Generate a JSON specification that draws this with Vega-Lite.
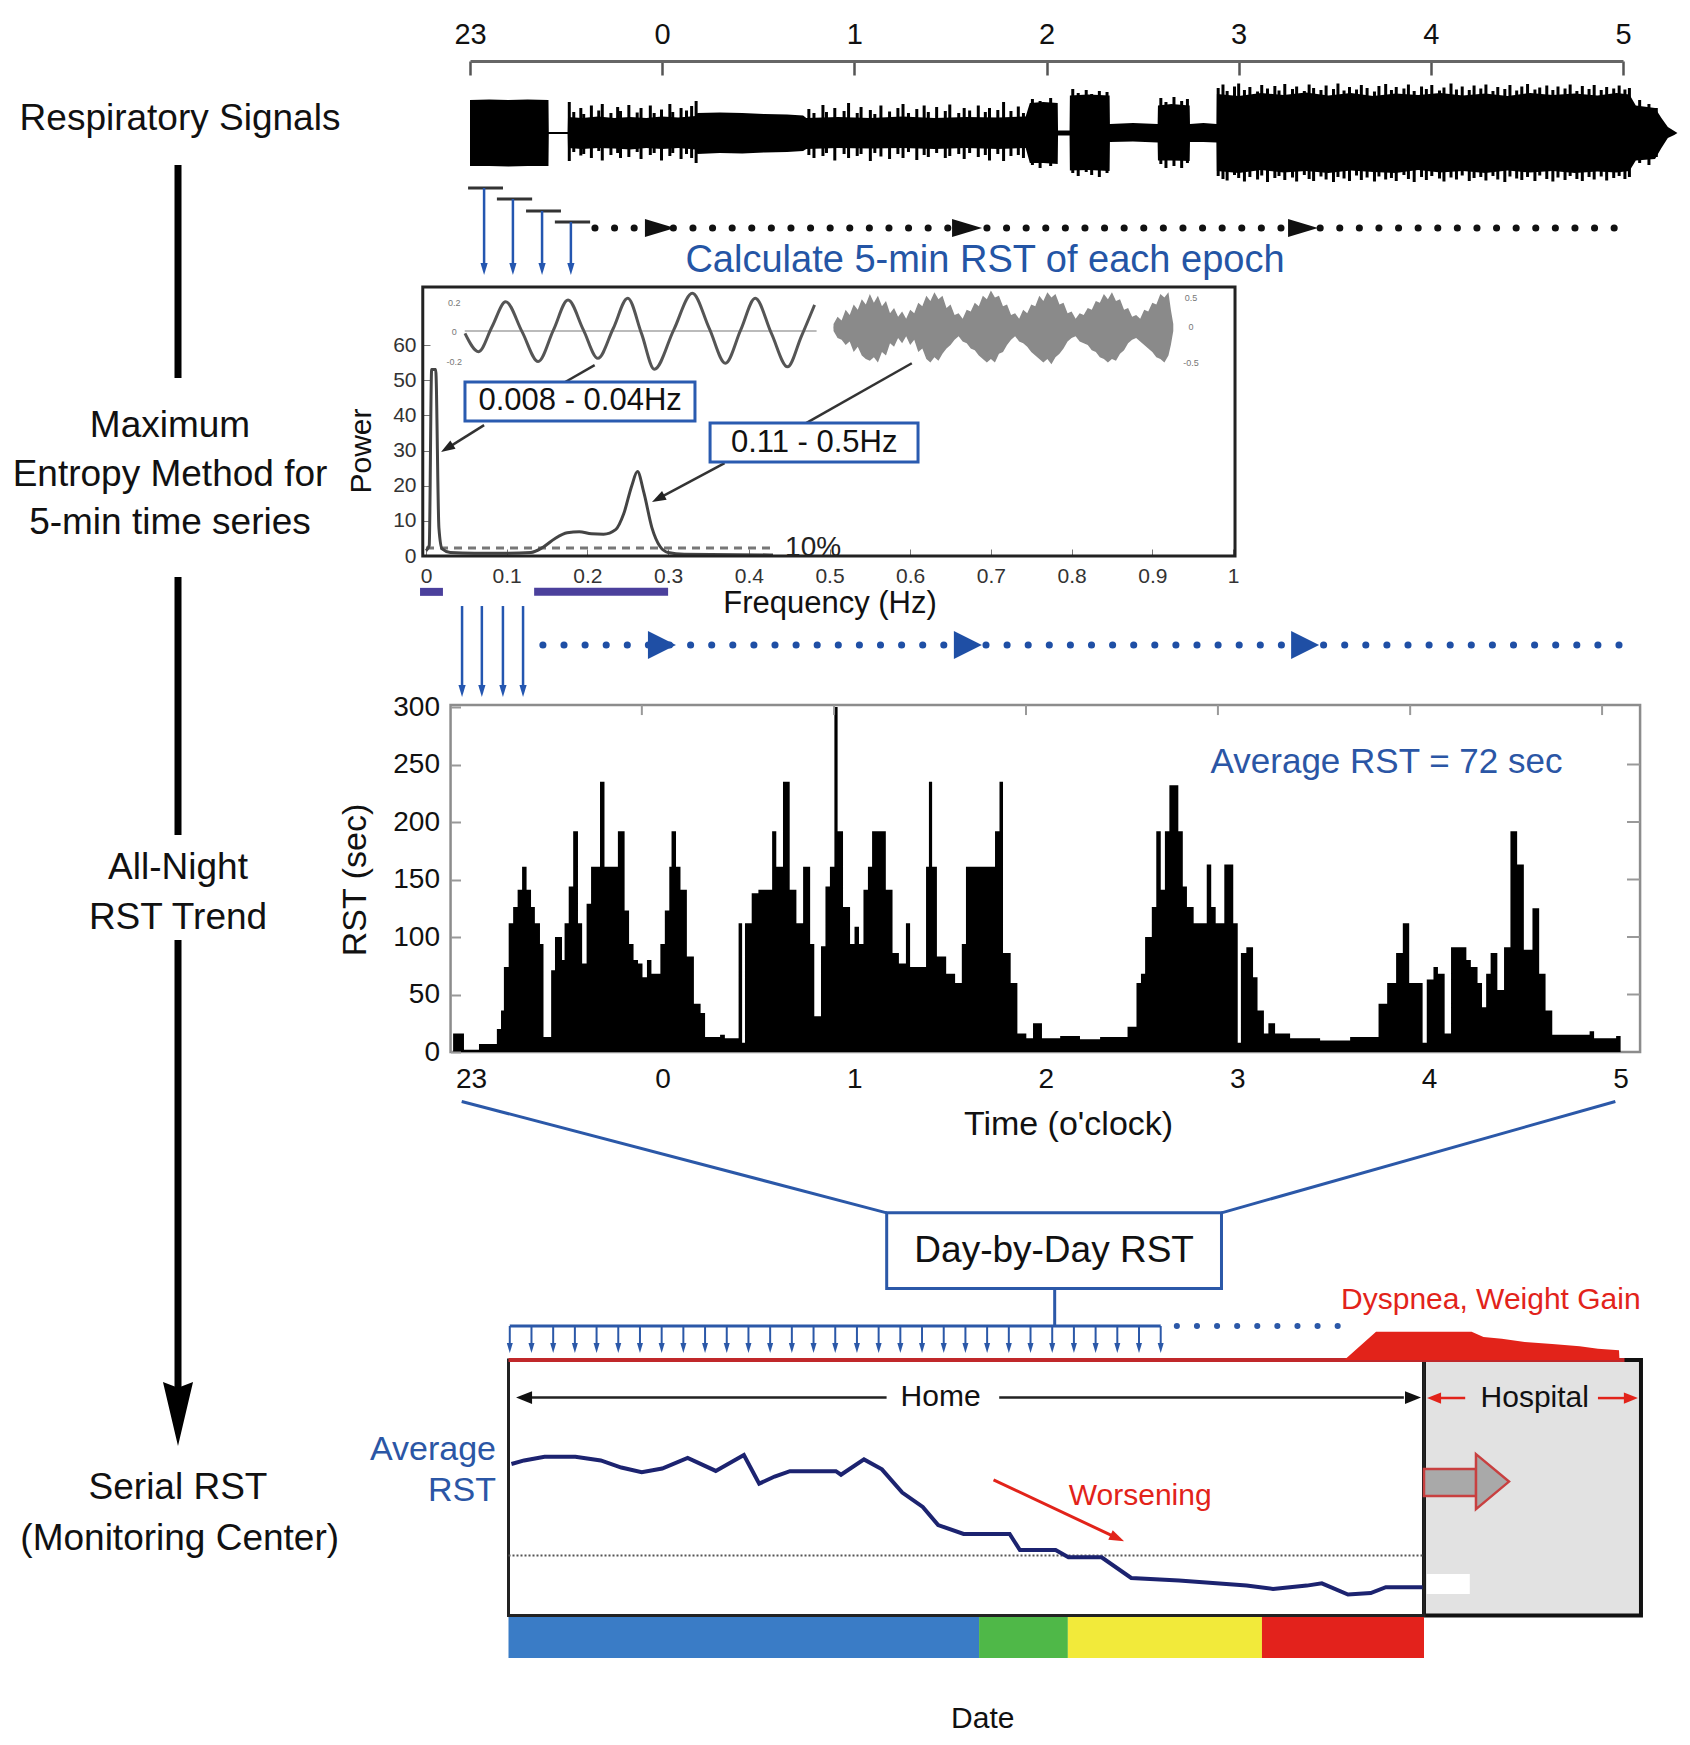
{
  "$schema": "https://vega.github.io/schema/vega-lite/v6.json",
  "width": 1690,
  "height": 1745,
  "autosize": {"type": "none"},
  "padding": 0,
  "background": "white",
  "config": {
    "view": {"stroke": null},
    "font": "Liberation Sans",
    "axis": {"grid": false, "titleFontWeight": "normal", "labelFont": "Liberation Sans", "titleFont": "Liberation Sans", "labelColor": "#111", "titleColor": "#111", "labelFlush": false, "labelOverlap": false}
  },
  "datasets": {
    "respBase": [
      {"t":0,"amp":0.66,"amp2":-0.66},{"t":6,"amp":0.67,"amp2":-0.66},{"t":12,"amp":0.66,"amp2":-0.67},{"t":18,"amp":0.67,"amp2":-0.66},{"t":24.5,"amp":0.66,"amp2":-0.66},
      {"t":24.6,"amp":0.02,"amp2":-0.02},{"t":30.5,"amp":0.02,"amp2":-0.02},
      {"t":30.6,"amp":0.32,"amp2":-0.3},{"t":35,"amp":0.3,"amp2":-0.32},{"t":40,"amp":0.33,"amp2":-0.3},{"t":45,"amp":0.3,"amp2":-0.31},{"t":50,"amp":0.32,"amp2":-0.33},{"t":55,"amp":0.3,"amp2":-0.3},{"t":60,"amp":0.33,"amp2":-0.32},{"t":65,"amp":0.31,"amp2":-0.3},{"t":70.5,"amp":0.34,"amp2":-0.33},
      {"t":71,"amp":0.4,"amp2":-0.42},{"t":78,"amp":0.41,"amp2":-0.4},{"t":85,"amp":0.4,"amp2":-0.41},{"t":92,"amp":0.38,"amp2":-0.39},{"t":99,"amp":0.37,"amp2":-0.38},{"t":104,"amp":0.35,"amp2":-0.36},
      {"t":105,"amp":0.3,"amp2":-0.32},{"t":115,"amp":0.32,"amp2":-0.3},{"t":125,"amp":0.3,"amp2":-0.31},{"t":135,"amp":0.33,"amp2":-0.3},{"t":145,"amp":0.3,"amp2":-0.32},{"t":155,"amp":0.32,"amp2":-0.3},{"t":165,"amp":0.31,"amp2":-0.32},{"t":173.5,"amp":0.33,"amp2":-0.3},
      {"t":174.8,"amp":0.6,"amp2":-0.6},{"t":179,"amp":0.62,"amp2":-0.6},{"t":183.5,"amp":0.6,"amp2":-0.62},
      {"t":183.6,"amp":0.05,"amp2":-0.05},{"t":187.2,"amp":0.05,"amp2":-0.05},
      {"t":187.3,"amp":0.75,"amp2":-0.75},{"t":193,"amp":0.77,"amp2":-0.74},{"t":199.7,"amp":0.75,"amp2":-0.76},
      {"t":199.8,"amp":0.18,"amp2":-0.18},{"t":207,"amp":0.2,"amp2":-0.17},{"t":214.7,"amp":0.18,"amp2":-0.19},
      {"t":214.8,"amp":0.55,"amp2":-0.55},{"t":219,"amp":0.58,"amp2":-0.55},{"t":224.7,"amp":0.55,"amp2":-0.56},
      {"t":224.8,"amp":0.18,"amp2":-0.18},{"t":229,"amp":0.2,"amp2":-0.18},{"t":233.1,"amp":0.18,"amp2":-0.19},
      {"t":233.2,"amp":0.78,"amp2":-0.76},{"t":240,"amp":0.74,"amp2":-0.8},{"t":247,"amp":0.8,"amp2":-0.74},{"t":254,"amp":0.76,"amp2":-0.79},{"t":261,"amp":0.81,"amp2":-0.76},{"t":268,"amp":0.75,"amp2":-0.8},{"t":275,"amp":0.8,"amp2":-0.75},{"t":282,"amp":0.74,"amp2":-0.78},{"t":289,"amp":0.79,"amp2":-0.8},{"t":296,"amp":0.76,"amp2":-0.74},{"t":303,"amp":0.8,"amp2":-0.79},{"t":310,"amp":0.75,"amp2":-0.76},{"t":317,"amp":0.79,"amp2":-0.8},{"t":324,"amp":0.74,"amp2":-0.75},{"t":331,"amp":0.8,"amp2":-0.79},{"t":338,"amp":0.76,"amp2":-0.76},{"t":345,"amp":0.79,"amp2":-0.8},{"t":352,"amp":0.75,"amp2":-0.77},{"t":358,"amp":0.8,"amp2":-0.79},{"t":362,"amp":0.77,"amp2":-0.76},
      {"t":364,"amp":0.55,"amp2":-0.55},{"t":370,"amp":0.5,"amp2":-0.52},{"t":372,"amp":0.3,"amp2":-0.3},{"t":374,"amp":0.12,"amp2":-0.1},{"t":376,"amp":0.04,"amp2":-0.04},{"t":377,"amp":0,"amp2":0}
    ],
    "respPeaks": [
      {"t":31.0,"amp":0.62,"amp2":-0.56},{"t":32.4,"amp":0.42,"amp2":-0.38},{"t":34.6,"amp":0.5,"amp2":-0.45},{"t":35.5,"amp":0.38,"amp2":-0.42},{"t":37.9,"amp":0.55,"amp2":-0.5},{"t":40.2,"amp":0.45,"amp2":-0.36},{"t":41.3,"amp":0.58,"amp2":-0.55},{"t":44.0,"amp":0.4,"amp2":-0.44},{"t":46.1,"amp":0.52,"amp2":-0.4},{"t":47.0,"amp":0.44,"amp2":-0.5},{"t":49.6,"amp":0.56,"amp2":-0.48},{"t":52.2,"amp":0.41,"amp2":-0.38},{"t":53.4,"amp":0.5,"amp2":-0.52},{"t":56.3,"amp":0.55,"amp2":-0.44},{"t":57.5,"amp":0.4,"amp2":-0.4},{"t":59.8,"amp":0.47,"amp2":-0.55},{"t":62.4,"amp":0.58,"amp2":-0.46},{"t":63.3,"amp":0.42,"amp2":-0.4},{"t":65.9,"amp":0.5,"amp2":-0.52},{"t":67.6,"amp":0.45,"amp2":-0.42},{"t":69.2,"amp":0.54,"amp2":-0.5},{"t":70.6,"amp":0.64,"amp2":-0.6},
      {"t":105.8,"amp":0.48,"amp2":-0.44},{"t":107.4,"amp":0.4,"amp2":-0.5},{"t":110.2,"amp":0.56,"amp2":-0.46},{"t":111.3,"amp":0.42,"amp2":-0.4},{"t":113.9,"amp":0.5,"amp2":-0.55},{"t":116.8,"amp":0.44,"amp2":-0.42},{"t":118.2,"amp":0.6,"amp2":-0.5},{"t":120.9,"amp":0.4,"amp2":-0.46},{"t":122.1,"amp":0.52,"amp2":-0.42},{"t":125.0,"amp":0.46,"amp2":-0.56},{"t":126.4,"amp":0.38,"amp2":-0.4},{"t":128.3,"amp":0.55,"amp2":-0.47},{"t":131.0,"amp":0.43,"amp2":-0.52},{"t":133.6,"amp":0.5,"amp2":-0.42},{"t":135.2,"amp":0.58,"amp2":-0.5},{"t":136.9,"amp":0.4,"amp2":-0.38},{"t":139.5,"amp":0.48,"amp2":-0.54},{"t":141.8,"amp":0.55,"amp2":-0.44},{"t":143.1,"amp":0.42,"amp2":-0.48},{"t":145.7,"amp":0.52,"amp2":-0.4},{"t":148.4,"amp":0.44,"amp2":-0.5},{"t":149.8,"amp":0.57,"amp2":-0.46},{"t":152.6,"amp":0.4,"amp2":-0.42},{"t":154.3,"amp":0.5,"amp2":-0.52},{"t":156.0,"amp":0.45,"amp2":-0.4},{"t":158.7,"amp":0.55,"amp2":-0.48},{"t":160.9,"amp":0.42,"amp2":-0.44},{"t":162.2,"amp":0.5,"amp2":-0.55},{"t":164.8,"amp":0.46,"amp2":-0.42},{"t":166.6,"amp":0.62,"amp2":-0.56},{"t":168.9,"amp":0.44,"amp2":-0.46},{"t":171.2,"amp":0.53,"amp2":-0.44},{"t":172.8,"amp":0.4,"amp2":-0.5},
      {"t":175.6,"amp":0.68,"amp2":-0.64},{"t":178.0,"amp":0.64,"amp2":-0.7},{"t":181.3,"amp":0.7,"amp2":-0.66},
      {"t":188.2,"amp":0.88,"amp2":-0.8},{"t":189.9,"amp":0.8,"amp2":-0.86},{"t":192.4,"amp":0.86,"amp2":-0.78},{"t":194.1,"amp":0.78,"amp2":-0.84},{"t":196.5,"amp":0.84,"amp2":-0.88},{"t":198.9,"amp":0.82,"amp2":-0.8},
      {"t":215.7,"amp":0.7,"amp2":-0.62},{"t":217.3,"amp":0.62,"amp2":-0.7},{"t":219.8,"amp":0.72,"amp2":-0.66},{"t":222.2,"amp":0.64,"amp2":-0.7},{"t":224.0,"amp":0.68,"amp2":-0.6},
      {"t":233.6,"amp":0.9,"amp2":-0.86},{"t":235.1,"amp":0.97,"amp2":-0.92},{"t":236.4,"amp":0.84,"amp2":-0.95},{"t":238.7,"amp":0.93,"amp2":-0.84},{"t":240.0,"amp":0.99,"amp2":-0.9},{"t":241.8,"amp":0.86,"amp2":-0.97},{"t":243.5,"amp":0.92,"amp2":-0.88},{"t":245.9,"amp":0.83,"amp2":-0.93},{"t":247.2,"amp":0.96,"amp2":-0.85},{"t":249.0,"amp":0.89,"amp2":-0.98},{"t":251.3,"amp":0.94,"amp2":-0.9},{"t":252.6,"amp":0.85,"amp2":-0.86},{"t":254.4,"amp":0.98,"amp2":-0.94},{"t":256.8,"amp":0.88,"amp2":-0.89},{"t":258.1,"amp":0.93,"amp2":-0.97},{"t":260.5,"amp":0.84,"amp2":-0.84},{"t":262.0,"amp":0.97,"amp2":-0.92},{"t":263.4,"amp":0.9,"amp2":-0.96},{"t":265.7,"amp":0.86,"amp2":-0.87},{"t":267.3,"amp":0.95,"amp2":-0.93},{"t":269.6,"amp":0.88,"amp2":-0.98},{"t":271.0,"amp":0.99,"amp2":-0.88},{"t":272.9,"amp":0.85,"amp2":-0.91},{"t":274.6,"amp":0.92,"amp2":-0.96},{"t":276.8,"amp":0.87,"amp2":-0.85},{"t":278.3,"amp":0.96,"amp2":-0.94},{"t":280.1,"amp":0.9,"amp2":-0.89},{"t":282.4,"amp":0.83,"amp2":-0.97},{"t":283.8,"amp":0.94,"amp2":-0.87},{"t":285.9,"amp":0.98,"amp2":-0.93},{"t":287.7,"amp":0.86,"amp2":-0.9},{"t":289.2,"amp":0.92,"amp2":-0.96},{"t":291.6,"amp":0.89,"amp2":-0.84},{"t":293.0,"amp":0.97,"amp2":-0.92},{"t":294.8,"amp":0.84,"amp2":-0.98},{"t":297.1,"amp":0.93,"amp2":-0.88},{"t":298.6,"amp":0.88,"amp2":-0.94},{"t":300.3,"amp":0.96,"amp2":-0.86},{"t":302.7,"amp":0.85,"amp2":-0.91},{"t":304.1,"amp":0.91,"amp2":-0.97},{"t":306.3,"amp":0.99,"amp2":-0.89},{"t":308.0,"amp":0.87,"amp2":-0.93},{"t":309.8,"amp":0.93,"amp2":-0.85},{"t":312.0,"amp":0.86,"amp2":-0.96},{"t":313.5,"amp":0.95,"amp2":-0.9},{"t":315.6,"amp":0.89,"amp2":-0.88},{"t":317.2,"amp":0.97,"amp2":-0.95},{"t":319.4,"amp":0.84,"amp2":-0.86},{"t":320.9,"amp":0.92,"amp2":-0.93},{"t":323.1,"amp":0.88,"amp2":-0.98},{"t":324.7,"amp":0.96,"amp2":-0.87},{"t":326.8,"amp":0.85,"amp2":-0.91},{"t":328.4,"amp":0.93,"amp2":-0.94},{"t":330.2,"amp":0.98,"amp2":-0.88},{"t":332.5,"amp":0.87,"amp2":-0.96},{"t":334.0,"amp":0.91,"amp2":-0.85},{"t":336.2,"amp":0.95,"amp2":-0.92},{"t":338.1,"amp":0.86,"amp2":-0.97},{"t":339.7,"amp":0.93,"amp2":-0.89},{"t":341.9,"amp":0.89,"amp2":-0.94},{"t":343.5,"amp":0.97,"amp2":-0.86},{"t":345.6,"amp":0.84,"amp2":-0.92},{"t":347.3,"amp":0.94,"amp2":-0.96},{"t":349.4,"amp":0.88,"amp2":-0.88},{"t":351.0,"amp":0.96,"amp2":-0.93},{"t":353.2,"amp":0.86,"amp2":-0.87},{"t":354.9,"amp":0.92,"amp2":-0.95},{"t":357.1,"amp":0.89,"amp2":-0.9},{"t":358.8,"amp":0.95,"amp2":-0.86},{"t":360.6,"amp":0.87,"amp2":-0.92},{"t":362.0,"amp":0.9,"amp2":-0.88},
      {"t":365.2,"amp":0.66,"amp2":-0.6},{"t":368.1,"amp":0.58,"amp2":-0.64},{"t":370.4,"amp":0.5,"amp2":-0.48}
    ],
    "rst": [
      {"t":-5.6,"rst":16},{"t":-2.2,"rst":2},{"t":2.5,"rst":7},{"t":8.1,"rst":20},{"t":9.4,"rst":36},{"t":10.3,"rst":74},{"t":11.8,"rst":112},{"t":13.2,"rst":126},{"t":14.6,"rst":141},{"t":16.0,"rst":161},{"t":17.4,"rst":141},{"t":18.8,"rst":126},{"t":20.0,"rst":112},{"t":21.6,"rst":94},{"t":22.7,"rst":13},
      {"t":25.1,"rst":71},{"t":26.3,"rst":100},{"t":28.5,"rst":80},{"t":29.3,"rst":112},{"t":30.6,"rst":144},{"t":32.0,"rst":192},{"t":33.5,"rst":112},{"t":34.8,"rst":77},{"t":36.2,"rst":129},{"t":37.6,"rst":161},{"t":40.4,"rst":235},{"t":41.8,"rst":161},{"t":46.0,"rst":192},{"t":48.1,"rst":123},{"t":49.5,"rst":94},{"t":50.9,"rst":80},{"t":52.3,"rst":77},{"t":53.7,"rst":65},{"t":55.1,"rst":80},{"t":56.5,"rst":68},{"t":59.3,"rst":94},{"t":60.7,"rst":123},{"t":62.1,"rst":161},{"t":62.8,"rst":192},{"t":64.2,"rst":161},{"t":65.6,"rst":141},{"t":67.6,"rst":83},{"t":69.8,"rst":42},{"t":71.9,"rst":34},{"t":73.3,"rst":13},{"t":78.0,"rst":15},{"t":79.5,"rst":12},
      {"t":83.8,"rst":112},{"t":84.9,"rst":8},{"t":85.8,"rst":112},{"t":87.9,"rst":138},{"t":90.0,"rst":141},{"t":94.3,"rst":192},{"t":95.6,"rst":161},{"t":97.7,"rst":235},{"t":99.8,"rst":141},{"t":101.9,"rst":112},{"t":104.0,"rst":161},{"t":106.2,"rst":94},{"t":107.5,"rst":31},{"t":109.6,"rst":92},{"t":111.0,"rst":144},{"t":112.4,"rst":161},{"t":113.8,"rst":300},{"t":114.8,"rst":192},{"t":116.5,"rst":126},{"t":118.7,"rst":94},{"t":120.1,"rst":109},{"t":121.5,"rst":94},{"t":122.9,"rst":141},{"t":124.3,"rst":161},{"t":125.6,"rst":192},{"t":129.9,"rst":141},{"t":132.0,"rst":86},{"t":134.0,"rst":77},{"t":136.2,"rst":112},{"t":137.5,"rst":74},{"t":142.5,"rst":161},{"t":143.4,"rst":235},{"t":144.4,"rst":161},{"t":145.9,"rst":83},{"t":148.8,"rst":68},{"t":151.6,"rst":60},{"t":153.7,"rst":94},{"t":155.0,"rst":161},{"t":164.1,"rst":192},{"t":165.5,"rst":235},{"t":166.6,"rst":86},{"t":169.0,"rst":60},{"t":171.1,"rst":16},
      {"t":173.9,"rst":12},{"t":176.0,"rst":25},{"t":178.8,"rst":12},{"t":184.5,"rst":14},{"t":190.7,"rst":11},{"t":197.0,"rst":13},{"t":205.6,"rst":22},
      {"t":208.4,"rst":60},{"t":209.8,"rst":68},{"t":211.1,"rst":100},{"t":213.2,"rst":126},{"t":214.6,"rst":192},{"t":216.0,"rst":141},{"t":217.3,"rst":192},{"t":218.7,"rst":232},{"t":221.5,"rst":192},{"t":222.9,"rst":144},{"t":224.2,"rst":126},{"t":226.3,"rst":112},{"t":230.4,"rst":163},{"t":231.8,"rst":126},{"t":233.2,"rst":112},{"t":235.9,"rst":163},{"t":238.7,"rst":112},{"t":240.1,"rst":8},{"t":241.1,"rst":86},{"t":242.8,"rst":91},{"t":244.9,"rst":65},{"t":246.3,"rst":36},{"t":248.3,"rst":16},{"t":249.7,"rst":25},{"t":251.8,"rst":16},{"t":256.5,"rst":12},{"t":265.9,"rst":10},{"t":275.3,"rst":13},
      {"t":284.2,"rst":42},{"t":286.9,"rst":60},{"t":289.7,"rst":86},{"t":291.8,"rst":112},{"t":293.8,"rst":60},{"t":298.0,"rst":8},{"t":299.3,"rst":63},{"t":301.4,"rst":74},{"t":302.8,"rst":68},{"t":304.9,"rst":16},{"t":306.9,"rst":91},{"t":311.7,"rst":80},{"t":313.1,"rst":74},{"t":315.2,"rst":60},{"t":316.6,"rst":39},{"t":317.9,"rst":68},{"t":319.3,"rst":86},{"t":321.4,"rst":54},{"t":323.5,"rst":91},{"t":325.5,"rst":192},{"t":327.6,"rst":163},{"t":329.7,"rst":89},{"t":332.4,"rst":125},{"t":334.5,"rst":68},{"t":336.5,"rst":36},{"t":338.6,"rst":15},{"t":350.3,"rst":18},{"t":351.7,"rst":12},{"t":358.6,"rst":14},{"t":360.0,"rst":0}
    ],
    "sine": [
      {"f":0.0483,"p":63.3},{"f":0.0652,"p":58.1},{"f":0.0818,"p":65.2},{"f":0.0988,"p":72.3},{"f":0.119,"p":63.8},{"f":0.139,"p":55.3},{"f":0.158,"p":64.3},{"f":0.176,"p":72.8},{"f":0.195,"p":64.3},{"f":0.213,"p":56.2},{"f":0.232,"p":64.7},{"f":0.25,"p":73.3},{"f":0.267,"p":63.3},{"f":0.283,"p":53.1},{"f":0.307,"p":64.3},{"f":0.33,"p":74.7},{"f":0.351,"p":64.7},{"f":0.371,"p":54.8},{"f":0.39,"p":64.3},{"f":0.408,"p":73.3},{"f":0.428,"p":63.3},{"f":0.448,"p":53.8},{"f":0.465,"p":62.4},{"f":0.4815,"p":71.4}
    ],
    "noise": [
      {"f":0.505,"p":66,"p2":64},{"f":0.51,"p":68,"p2":62},{"f":0.515,"p":67,"p2":61.5},{"f":0.52,"p":70,"p2":60},{"f":0.525,"p":68.5,"p2":61},{"f":0.53,"p":71.5,"p2":58},{"f":0.535,"p":70,"p2":59.5},{"f":0.54,"p":73,"p2":57},{"f":0.545,"p":71.5,"p2":56},{"f":0.55,"p":74.5,"p2":55.5},{"f":0.555,"p":72,"p2":56.5},{"f":0.56,"p":74,"p2":55},{"f":0.565,"p":71,"p2":58},{"f":0.57,"p":72.5,"p2":57},{"f":0.575,"p":69,"p2":60.5},{"f":0.58,"p":70.5,"p2":59.5},{"f":0.585,"p":68,"p2":62},{"f":0.59,"p":69.5,"p2":60.5},{"f":0.595,"p":67.5,"p2":62.5},{"f":0.6,"p":70,"p2":60},
      {"f":0.605,"p":69,"p2":61.5},{"f":0.61,"p":72,"p2":58},{"f":0.615,"p":71,"p2":59},{"f":0.62,"p":74,"p2":56},{"f":0.625,"p":72.5,"p2":55},{"f":0.63,"p":75,"p2":56.5},{"f":0.635,"p":73,"p2":55.5},{"f":0.64,"p":74,"p2":57.5},{"f":0.645,"p":70.5,"p2":59},{"f":0.65,"p":71.5,"p2":60},{"f":0.655,"p":68.5,"p2":61.5},{"f":0.66,"p":69,"p2":62.5},{"f":0.665,"p":67.5,"p2":61},{"f":0.67,"p":70,"p2":60.5},{"f":0.675,"p":69.5,"p2":59},{"f":0.68,"p":72,"p2":58.5},{"f":0.685,"p":71,"p2":57},{"f":0.69,"p":74,"p2":56},{"f":0.695,"p":73,"p2":55},{"f":0.7,"p":75.5,"p2":56},
      {"f":0.705,"p":73.5,"p2":55},{"f":0.71,"p":74,"p2":57.5},{"f":0.715,"p":71,"p2":58},{"f":0.72,"p":71.5,"p2":60},{"f":0.725,"p":68.5,"p2":61.5},{"f":0.73,"p":69,"p2":62.5},{"f":0.735,"p":67.5,"p2":61},{"f":0.74,"p":70,"p2":60.5},{"f":0.745,"p":69,"p2":59.5},{"f":0.75,"p":71.5,"p2":58},{"f":0.755,"p":71,"p2":57},{"f":0.76,"p":74,"p2":56},{"f":0.765,"p":72.5,"p2":55},{"f":0.77,"p":75,"p2":56},{"f":0.775,"p":73.5,"p2":54.5},{"f":0.78,"p":74.5,"p2":56.5},{"f":0.785,"p":71.5,"p2":57.5},{"f":0.79,"p":72,"p2":59},{"f":0.795,"p":69,"p2":61},{"f":0.8,"p":69.5,"p2":62},
      {"f":0.805,"p":67.5,"p2":62.5},{"f":0.81,"p":69,"p2":61},{"f":0.815,"p":68.5,"p2":60.5},{"f":0.82,"p":70.5,"p2":60},{"f":0.825,"p":70,"p2":58.5},{"f":0.83,"p":72.5,"p2":58},{"f":0.835,"p":72,"p2":56.5},{"f":0.84,"p":74.5,"p2":56},{"f":0.845,"p":73,"p2":55},{"f":0.85,"p":75,"p2":56},{"f":0.855,"p":72.5,"p2":55.5},{"f":0.86,"p":73,"p2":57.5},{"f":0.865,"p":70,"p2":58.5},{"f":0.87,"p":70.5,"p2":60.5},{"f":0.875,"p":68,"p2":61.5},{"f":0.88,"p":68.5,"p2":62},{"f":0.885,"p":67.5,"p2":61},{"f":0.89,"p":70,"p2":60},{"f":0.895,"p":69.5,"p2":59},{"f":0.9,"p":72,"p2":58},
      {"f":0.905,"p":71.5,"p2":56.5},{"f":0.91,"p":74.5,"p2":56},{"f":0.915,"p":73.5,"p2":55},{"f":0.92,"p":75,"p2":57},{"f":0.923,"p":70,"p2":60},{"f":0.926,"p":66,"p2":64}
    ],
    "spec": [
      {"f":0,"p":1.5},{"f":0.004,"p":3},{"f":0.007,"p":53},{"f":0.012,"p":53},{"f":0.016,"p":8},{"f":0.02,"p":2},{"f":0.03,"p":1},{"f":0.06,"p":0.8},{"f":0.1,"p":0.8},{"f":0.13,"p":1},{"f":0.145,"p":2.5},{"f":0.16,"p":5},{"f":0.175,"p":6.6},{"f":0.19,"p":6.9},{"f":0.205,"p":6.3},{"f":0.22,"p":6.2},{"f":0.235,"p":7.5},{"f":0.245,"p":12},{"f":0.255,"p":20},{"f":0.262,"p":24},{"f":0.27,"p":18},{"f":0.28,"p":8},{"f":0.29,"p":2.7},{"f":0.3,"p":1},{"f":0.32,"p":0.5},{"f":0.43,"p":0.3}
    ],
    "avg": [
      {"day":0.32,"v":59.3},{"day":1.71,"v":60.7},{"day":3.94,"v":62.1},{"day":7.3,"v":62.1},{"day":10.08,"v":60.7},{"day":12.32,"v":57.9},{"day":14.55,"v":56.1},{"day":16.79,"v":57.5},{"day":19.57,"v":61.7},{"day":22.64,"v":56.6},{"day":25.71,"v":62.8},{"day":27.38,"v":51.6},{"day":29.07,"v":54.4},{"day":30.74,"v":56.5},{"day":35.76,"v":56.5},{"day":36.32,"v":55.1},{"day":38.83,"v":61.1},{"day":40.79,"v":57.2},{"day":43.01,"v":48.1},{"day":45.25,"v":42.5},{"day":46.93,"v":35.4},{"day":49.71,"v":31.9},{"day":54.74,"v":31.9},{"day":55.86,"v":25.6},{"day":59.76,"v":25.6},{"day":61.16,"v":22.8},{"day":64.78,"v":22.8},{"day":68.02,"v":14.7},{"day":73.24,"v":13.7},{"day":80.62,"v":11.7},{"day":83.51,"v":10.4},{"day":87.2,"v":11.7},{"day":88.84,"v":12.6},{"day":91.7,"v":8.2},{"day":94.18,"v":8.8},{"day":95.83,"v":11.1},{"day":99.85,"v":11.1}
    ],
    "daily": [
      {"day":0.14,"v":113.3,"v2":106.5},{"day":2.51,"v":113.3,"v2":106.5},{"day":4.88,"v":113.3,"v2":106.5},{"day":7.25,"v":113.3,"v2":106.5},{"day":9.62,"v":113.3,"v2":106.5},{"day":11.99,"v":113.3,"v2":106.5},{"day":14.36,"v":113.3,"v2":106.5},{"day":16.73,"v":113.3,"v2":106.5},{"day":19.1,"v":113.3,"v2":106.5},{"day":21.47,"v":113.3,"v2":106.5},{"day":23.84,"v":113.3,"v2":106.5},{"day":26.21,"v":113.3,"v2":106.5},{"day":28.58,"v":113.3,"v2":106.5},{"day":30.95,"v":113.3,"v2":106.5},{"day":33.32,"v":113.3,"v2":106.5},{"day":35.69,"v":113.3,"v2":106.5},{"day":38.06,"v":113.3,"v2":106.5},{"day":40.43,"v":113.3,"v2":106.5},{"day":42.8,"v":113.3,"v2":106.5},{"day":45.17,"v":113.3,"v2":106.5},{"day":47.54,"v":113.3,"v2":106.5},{"day":49.91,"v":113.3,"v2":106.5},{"day":52.28,"v":113.3,"v2":106.5},{"day":54.65,"v":113.3,"v2":106.5},{"day":57.02,"v":113.3,"v2":106.5},{"day":59.39,"v":113.3,"v2":106.5},{"day":61.76,"v":113.3,"v2":106.5},{"day":64.13,"v":113.3,"v2":106.5},{"day":66.5,"v":113.3,"v2":106.5},{"day":68.87,"v":113.3,"v2":106.5},{"day":71.24,"v":113.3,"v2":106.5}
    ],
    "dailyHeads": [
      {"day":0.14,"v":104.7},{"day":2.51,"v":104.7},{"day":4.88,"v":104.7},{"day":7.25,"v":104.7},{"day":9.62,"v":104.7},{"day":11.99,"v":104.7},{"day":14.36,"v":104.7},{"day":16.73,"v":104.7},{"day":19.1,"v":104.7},{"day":21.47,"v":104.7},{"day":23.84,"v":104.7},{"day":26.21,"v":104.7},{"day":28.58,"v":104.7},{"day":30.95,"v":104.7},{"day":33.32,"v":104.7},{"day":35.69,"v":104.7},{"day":38.06,"v":104.7},{"day":40.43,"v":104.7},{"day":42.8,"v":104.7},{"day":45.17,"v":104.7},{"day":47.54,"v":104.7},{"day":49.91,"v":104.7},{"day":52.28,"v":104.7},{"day":54.65,"v":104.7},{"day":57.02,"v":104.7},{"day":59.39,"v":104.7},{"day":61.76,"v":104.7},{"day":64.13,"v":104.7},{"day":66.5,"v":104.7},{"day":68.87,"v":104.7},{"day":71.24,"v":104.7}
    ]
  },
  "layer": [
    {
      "encoding": {
        "x": {"field": "col", "type": "quantitative", "scale": {"domain": [0, 1], "range": [0, 356], "nice": false, "zero": false}, "axis": null},
        "y": {"field": "pos", "type": "quantitative", "scale": {"domain": [0, 1], "range": [0, 1745], "nice": false, "zero": false}, "axis": null}
      },
      "layer": [
        {"data": {"values": [{"col":0.5,"pos":0.0946,"pos2":0.2166},{"col":0.5,"pos":0.3307,"pos2":0.4785},{"col":0.5,"pos":0.5387,"pos2":0.7966}]},
         "mark": {"type": "rule", "color": "#000", "strokeWidth": 7},
         "encoding": {"y2": {"field": "pos2"}}},
        {"data": {"values": [{"col":0.5,"pos":0.8103}]},
         "mark": {"type": "point", "shape": "M-0.47,-1L0,-0.82L0.47,-1L0,1Z", "filled": true, "color": "#000", "size": 4096, "opacity": 1},
         "encoding": {}},
        {"data": {"values": [
            {"col":0.5056,"pos":0.0682,"label":"Respiratory Signals"},
            {"col":0.4775,"pos":0.2441,"label":"Maximum"},
            {"col":0.4775,"pos":0.2722,"label":"Entropy Method for"},
            {"col":0.4775,"pos":0.2997,"label":"5-min time series"},
            {"col":0.5,"pos":0.4974,"label":"All-Night"},
            {"col":0.5,"pos":0.5261,"label":"RST Trend"},
            {"col":0.5,"pos":0.8527,"label":"Serial RST"},
            {"col":0.5048,"pos":0.8819,"label":"(Monitoring Center)"}]},
         "mark": {"type": "text", "fontSize": 37, "color": "#111", "align": "center", "baseline": "middle"},
         "encoding": {"text": {"field": "label"}}}
      ]
    },
    {
      "encoding": {
        "x": {"field": "t", "type": "quantitative", "scale": {"domain": [0, 360], "range": [470, 1623], "nice": false, "zero": false},
              "axis": {"orient": "top", "offset": -61, "values": [0, 60, 120, 180, 240, 300, 360], "labelExpr": "'' + ((datum.value / 60 + 23) % 24)", "title": null, "domain": true, "domainColor": "#666", "domainWidth": 3, "ticks": true, "tickSize": -14, "tickColor": "#555", "tickWidth": 2.5, "labelFontSize": 29, "labelPadding": 26, "labelColor": "#111"}},
        "y": {"field": "amp", "type": "quantitative", "scale": {"domain": [-1, 1], "range": [183, 83], "nice": false, "zero": false}, "axis": null}
      },
      "layer": [
        {"data": {"name": "respBase"}, "mark": {"type": "area", "color": "#000", "interpolate": "linear"}, "encoding": {"y2": {"field": "amp2"}}},
        {"data": {"name": "respPeaks"}, "mark": {"type": "rule", "color": "#000", "strokeWidth": 3}, "encoding": {"y2": {"field": "amp2"}}},
        {"data": {"values": [{"t":-0.6,"t2":10.3,"amp":-1.1},{"t":8.4,"t2":19.4,"amp":-1.32},{"t":17.5,"t2":28.4,"amp":-1.56},{"t":26.5,"t2":37.5,"amp":-1.78}]},
         "mark": {"type": "rule", "color": "#333", "strokeWidth": 3}, "encoding": {"x2": {"field": "t2"}}},
        {"data": {"values": [{"t":4.4,"amp":-1.1,"amp2":-2.7},{"t":13.4,"amp":-1.32,"amp2":-2.7},{"t":22.5,"amp":-1.56,"amp2":-2.7},{"t":31.5,"amp":-1.78,"amp2":-2.7}]},
         "mark": {"type": "rule", "color": "#2456b0", "strokeWidth": 2.5}, "encoding": {"y2": {"field": "amp2"}}},
        {"data": {"values": [{"t":4.4,"amp":-2.72},{"t":13.4,"amp":-2.72},{"t":22.5,"amp":-2.72},{"t":31.5,"amp":-2.72}]},
         "mark": {"type": "point", "shape": "M-0.6,-1L0.6,-1L0,1Z", "filled": true, "color": "#2456b0", "size": 144, "opacity": 1}, "encoding": {}},
        {"data": {"values": [{"t":39,"t2":362.2,"amp":-1.9}]},
         "mark": {"type": "rule", "color": "#111", "strokeWidth": 7, "strokeDash": [0.1, 19.5], "strokeCap": "round"}, "encoding": {"x2": {"field": "t2"}}},
        {"data": {"values": [{"t":59.3,"amp":-1.9},{"t":155.2,"amp":-1.9},{"t":260.1,"amp":-1.9}]},
         "mark": {"type": "point", "shape": "M-1,-0.6L1,0L-1,0.6Z", "filled": true, "color": "#111", "size": 900, "opacity": 1}, "encoding": {}},
        {"data": {"values": [{"t":160.8,"amp":-2.56,"label":"Calculate 5-min RST of each epoch"}]},
         "mark": {"type": "text", "fontSize": 38, "color": "#2455a5", "align": "center", "baseline": "middle"},
         "encoding": {"text": {"field": "label"}}}
      ]
    },
    {
      "encoding": {
        "x": {"field": "f", "type": "quantitative", "scale": {"domain": [0, 1], "range": [426, 1233], "nice": false, "zero": false},
              "axis": {"orient": "bottom", "offset": -1189, "values": [0, 0.1, 0.2, 0.3, 0.4, 0.5, 0.6, 0.7, 0.8, 0.9, 1], "format": ".1~f", "title": "Frequency (Hz)", "titleFontSize": 31, "titlePadding": 2, "labelFontSize": 21, "labelPadding": 16, "ticks": true, "tickSize": -7, "tickColor": "#777", "domain": false, "labelColor": "#333"}},
        "y": {"field": "p", "type": "quantitative", "scale": {"domain": [0, 60], "range": [556, 345], "nice": false, "zero": false},
              "axis": {"orient": "left", "offset": -423, "values": [0, 10, 20, 30, 40, 50, 60], "title": "Power", "titleFontSize": 30, "titlePadding": 16, "labelFontSize": 21, "labelPadding": 14, "ticks": true, "tickSize": -7, "tickColor": "#777", "domain": false, "labelColor": "#333"}}
      },
      "layer": [
        {"data": {"values": [{"f":0.048,"f2":0.484,"p":64},{"f":0.505,"f2":0.925,"p":65}]},
         "mark": {"type": "rule", "color": "#bbb", "strokeWidth": 2}, "encoding": {"x2": {"field": "f2"}}},
        {"data": {"name": "sine"}, "mark": {"type": "line", "color": "#555", "strokeWidth": 3, "interpolate": "monotone"}, "encoding": {}},
        {"data": {"name": "noise"}, "mark": {"type": "area", "color": "#8a8a8a", "interpolate": "linear"}, "encoding": {"y2": {"field": "p2"}}},
        {"data": {"values": [{"f":0.035,"p":71.9,"label":"0.2"},{"f":0.035,"p":63.8,"label":"0"},{"f":0.035,"p":55.3,"label":"-0.2"},{"f":0.948,"p":73.5,"label":"0.5"},{"f":0.948,"p":65,"label":"0"},{"f":0.948,"p":55,"label":"-0.5"}]},
         "mark": {"type": "text", "fontSize": 9, "color": "#777", "align": "center", "baseline": "middle"},
         "encoding": {"text": {"field": "label"}}},
        {"data": {"values": [{"f":0,"f2":0.43,"p":2.3}]},
         "mark": {"type": "rule", "color": "#777", "strokeWidth": 3, "strokeDash": [8, 6]}, "encoding": {"x2": {"field": "f2"}}},
        {"data": {"name": "spec"}, "mark": {"type": "line", "color": "#444", "strokeWidth": 3, "interpolate": "monotone"}, "encoding": {}},
        {"data": {"values": [{"f":0.445,"p":0,"label":"10%"}]},
         "mark": {"type": "text", "fontSize": 28, "color": "#222", "align": "left", "baseline": "alphabetic"},
         "encoding": {"text": {"field": "label"}}},
        {"data": {"values": [{"f":0.209,"f2":0.172,"p":54.3,"p2":49.4},{"f":0.072,"f2":0.026,"p":37.2,"p2":30.6},{"f":0.602,"f2":0.471,"p":54.8,"p2":37.8},{"f":0.37,"f2":0.2877,"p":26.4,"p2":16.3}]},
         "mark": {"type": "rule", "color": "#333", "strokeWidth": 2.5}, "encoding": {"x2": {"field": "f2"}, "y2": {"field": "p2"}}},
        {"data": {"values": [{"f":0.026,"p":30.6}]},
         "mark": {"type": "point", "shape": "M0,-1L0.7,1L-0.7,1Z", "filled": true, "color": "#222", "size": 196, "opacity": 1, "angle": 238}, "encoding": {}},
        {"data": {"values": [{"f":0.2877,"p":16.3}]},
         "mark": {"type": "point", "shape": "M0,-1L0.7,1L-0.7,1Z", "filled": true, "color": "#222", "size": 196, "opacity": 1, "angle": 242}, "encoding": {}},
        {"data": {"values": [{"f":0.0483,"f2":0.3333,"p":49.5,"p2":38.4},{"f":0.352,"f2":0.6097,"p":37.8,"p2":26.7}]},
         "mark": {"type": "rect", "fill": "white", "stroke": "#2a5bb0", "strokeWidth": 3}, "encoding": {"x2": {"field": "f2"}, "y2": {"field": "p2"}}},
        {"data": {"values": [{"f":0.191,"p":44,"label":"0.008 - 0.04Hz"},{"f":0.481,"p":32.2,"label":"0.11 - 0.5Hz"}]},
         "mark": {"type": "text", "fontSize": 31, "color": "#111", "align": "center", "baseline": "middle"},
         "encoding": {"text": {"field": "label"}}},
        {"data": {"values": [{"f":-0.004,"f2":1.0025,"p":0,"p2":76.5}]},
         "mark": {"type": "rect", "filled": false, "color": "#222", "strokeWidth": 3}, "encoding": {"x2": {"field": "f2"}, "y2": {"field": "p2"}}},
        {"data": {"values": [{"f":-0.0074,"f2":0.021,"p":-10.2},{"f":0.134,"f2":0.3,"p":-10.2}]},
         "mark": {"type": "rule", "color": "#4b409c", "strokeWidth": 8}, "encoding": {"x2": {"field": "f2"}}}
      ]
    },
    {
      "encoding": {
        "x": {"field": "t", "type": "quantitative", "scale": {"domain": [0, 360], "range": [471, 1620.6], "nice": false, "zero": false},
              "axis": {"orient": "bottom", "offset": -693, "values": [0, 60, 120, 180, 240, 300, 360], "labelExpr": "'' + ((datum.value / 60 + 23) % 24)", "title": "Time (o'clock)", "titleFontSize": 34, "titlePadding": 14, "titleX": 1068, "labelFontSize": 28, "labelPadding": 13, "ticks": false, "domain": false}},
        "y": {"field": "rst", "type": "quantitative", "scale": {"domain": [0, 300], "range": [1052, 707], "nice": false, "zero": false},
              "axis": {"orient": "left", "offset": -450.5, "values": [0, 50, 100, 150, 200, 250, 300], "title": "RST (sec)", "titleFontSize": 34, "titlePadding": 20, "labelFontSize": 28, "labelPadding": 21, "ticks": true, "tickSize": -10, "tickColor": "#999", "tickWidth": 2, "domain": false, "zindex": 1}}
      },
      "layer": [
        {"data": {"values": [{"t":-6.4,"t2":366.1,"rst":0,"rst2":301.7}]},
         "mark": {"type": "rect", "filled": false, "color": "#8c8c8c", "strokeWidth": 2.5}, "encoding": {"x2": {"field": "t2"}, "y2": {"field": "rst2"}}},
        {"data": {"name": "rst"}, "mark": {"type": "area", "color": "#000", "interpolate": "step-after"}, "encoding": {}},
        {"data": {"values": [{"t":53.5,"rst":301.7,"rst2":293},{"t":113.7,"rst":301.7,"rst2":293},{"t":173.8,"rst":301.7,"rst2":293},{"t":233.9,"rst":301.7,"rst2":293},{"t":294.1,"rst":301.7,"rst2":293},{"t":354.2,"rst":301.7,"rst2":293}]},
         "mark": {"type": "rule", "color": "#999", "strokeWidth": 2}, "encoding": {"y2": {"field": "rst2"}}},
        {"data": {"values": [{"t":366.1,"t2":362,"rst":50},{"t":366.1,"t2":362,"rst":100},{"t":366.1,"t2":362,"rst":150},{"t":366.1,"t2":362,"rst":200},{"t":366.1,"t2":362,"rst":250}]},
         "mark": {"type": "rule", "color": "#999", "strokeWidth": 2}, "encoding": {"x2": {"field": "t2"}}},
        {"data": {"values": [{"t":286.7,"rst":252,"label":"Average RST = 72 sec"}]},
         "mark": {"type": "text", "fontSize": 35, "color": "#2b56a5", "align": "center", "baseline": "middle"},
         "encoding": {"text": {"field": "label"}}},
        {"data": {"values": [{"t":-2.8,"rst":387.8,"rst2":316},{"t":3.4,"rst":387.8,"rst2":316},{"t":10.0,"rst":387.8,"rst2":316},{"t":16.3,"rst":387.8,"rst2":316}]},
         "mark": {"type": "rule", "color": "#2456b0", "strokeWidth": 2.5}, "encoding": {"y2": {"field": "rst2"}}},
        {"data": {"values": [{"t":-2.8,"rst":313.9},{"t":3.4,"rst":313.9},{"t":10.0,"rst":313.9},{"t":16.3,"rst":313.9}]},
         "mark": {"type": "point", "shape": "M-0.6,-1L0.6,-1L0,1Z", "filled": true, "color": "#2456b0", "size": 144, "opacity": 1}, "encoding": {}},
        {"data": {"values": [{"t":22.5,"t2":362.9,"rst":353.9}]},
         "mark": {"type": "rule", "color": "#1f4fa5", "strokeWidth": 7, "strokeDash": [0.1, 21], "strokeCap": "round"}, "encoding": {"x2": {"field": "t2"}}},
        {"data": {"values": [{"t":59.8,"rst":353.9},{"t":155.6,"rst":353.9},{"t":261.2,"rst":353.9}]},
         "mark": {"type": "point", "shape": "M-1,-1L1,0L-1,1Z", "filled": true, "color": "#1f4fa5", "size": 784, "opacity": 1}, "encoding": {}}
      ]
    },
    {
      "encoding": {
        "x": {"field": "day", "type": "quantitative", "scale": {"domain": [0, 100], "range": [508.5, 1424], "nice": false, "zero": false}, "axis": null},
        "y": {"field": "v", "type": "quantitative", "scale": {"domain": [0, 100], "range": [1615.5, 1360], "nice": false, "zero": false}, "axis": null}
      },
      "layer": [
        {"data": {"values": [{"day":-5.11,"day2":41.31,"v":201.2,"v2":157.6},{"day":120.9,"day2":77.88,"v":201.2,"v2":157.6},{"day":59.66,"day2":59.66,"v":128,"v2":113.3}]},
         "mark": {"type": "rule", "color": "#2b58a8", "strokeWidth": 3}, "encoding": {"x2": {"field": "day2"}, "y2": {"field": "v2"}}},
        {"data": {"values": [{"day":41.31,"day2":77.88,"v":157.6,"v2":128}]},
         "mark": {"type": "rect", "fill": "white", "stroke": "#2b58a8", "strokeWidth": 3}, "encoding": {"x2": {"field": "day2"}, "y2": {"field": "v2"}}},
        {"data": {"values": [{"day":59.6,"v":142.8,"label":"Day-by-Day RST"}]},
         "mark": {"type": "text", "fontSize": 37, "color": "#111", "align": "center", "baseline": "middle"},
         "encoding": {"text": {"field": "label"}}},
        {"data": {"values": [{"day":0.14,"day2":71.24,"v":113.3}]},
         "mark": {"type": "rule", "color": "#2b58a8", "strokeWidth": 3}, "encoding": {"x2": {"field": "day2"}}},
        {"data": {"name": "daily"},
         "mark": {"type": "rule", "color": "#2b58a8", "strokeWidth": 2},
         "encoding": {"y2": {"field": "v2"}}},
        {"data": {"name": "dailyHeads"},
         "mark": {"type": "point", "shape": "M-0.6,-1L0.6,-1L0,1Z", "filled": true, "color": "#2b58a8", "size": 100, "opacity": 1},
         "encoding": {}},
        {"data": {"values": [{"day":73,"day2":92.1,"v":113.3}]},
         "mark": {"type": "rule", "color": "#2b58a8", "strokeWidth": 6, "strokeDash": [0.1, 20], "strokeCap": "round"}, "encoding": {"x2": {"field": "day2"}}},
        {"data": {"values": [{"day":100,"day2":123.7,"v":0,"v2":100}]},
         "mark": {"type": "rect", "fill": "#e2e2e2", "stroke": "#111", "strokeWidth": 4}, "encoding": {"x2": {"field": "day2"}, "y2": {"field": "v2"}}},
        {"data": {"values": [{"day":100.3,"day2":105,"v":16.2,"v2":8.4}]},
         "mark": {"type": "rect", "fill": "white"}, "encoding": {"x2": {"field": "day2"}, "y2": {"field": "v2"}}},
        {"data": {"values": [{"day":0,"day2":100,"v":0,"v2":100}]},
         "mark": {"type": "rect", "filled": false, "color": "#222", "strokeWidth": 3}, "encoding": {"x2": {"field": "day2"}, "y2": {"field": "v2"}}},
        {"data": {"values": [{"day":0,"day2":121.9,"v":100}]},
         "mark": {"type": "rule", "color": "#c0282a", "strokeWidth": 4}, "encoding": {"x2": {"field": "day2"}}},
        {"data": {"values": [{"day":91.3,"v":100,"v2":100},{"day":94.76,"v":111.1,"v2":100},{"day":105.2,"v":111.1,"v2":100},{"day":106.5,"v":109,"v2":100},{"day":108.5,"v":108.3,"v2":100},{"day":111,"v":107,"v2":100},{"day":114,"v":106.3,"v2":100},{"day":117,"v":105.4,"v2":100},{"day":119,"v":104.4,"v2":100},{"day":121.3,"v":103.8,"v2":100},{"day":121.35,"v":100,"v2":100}]},
         "mark": {"type": "area", "color": "#e2231a", "interpolate": "linear"},
         "encoding": {"y2": {"field": "v2"}}},
        {"data": {"values": [{"day":107.3,"v":123.5,"label":"Dyspnea, Weight Gain"}]},
         "mark": {"type": "text", "fontSize": 30, "color": "#e2231a", "align": "center", "baseline": "middle"},
         "encoding": {"text": {"field": "label"}}},
        {"data": {"values": [{"day":1.7,"day2":41.3,"v":85.3},{"day":53.6,"day2":97.8,"v":85.3}]},
         "mark": {"type": "rule", "color": "#222", "strokeWidth": 2.5}, "encoding": {"x2": {"field": "day2"}}},
        {"data": {"values": [{"day":1.7,"v":85.3}]},
         "mark": {"type": "point", "shape": "M-1,-0.8L1,0L-1,0.8Z", "filled": true, "color": "#111", "size": 256, "opacity": 1, "angle": 180}, "encoding": {}},
        {"data": {"values": [{"day":98.8,"v":85.3}]},
         "mark": {"type": "point", "shape": "M-1,-0.8L1,0L-1,0.8Z", "filled": true, "color": "#111", "size": 256, "opacity": 1}, "encoding": {}},
        {"data": {"values": [{"day":47.2,"v":85.5,"label":"Home"},{"day":112.1,"v":85,"label":"Hospital"}]},
         "mark": {"type": "text", "fontSize": 30, "color": "#111", "align": "center", "baseline": "middle"},
         "encoding": {"text": {"field": "label"}}},
        {"data": {"values": [{"day":101,"day2":104.5,"v":85.1},{"day":119,"day2":122.2,"v":85.1}]},
         "mark": {"type": "rule", "color": "#e2231a", "strokeWidth": 2.5}, "encoding": {"x2": {"field": "day2"}}},
        {"data": {"values": [{"day":101.1,"v":85.1}]},
         "mark": {"type": "point", "shape": "M-1,-0.8L1,0L-1,0.8Z", "filled": true, "color": "#e2231a", "size": 196, "opacity": 1, "angle": 180}, "encoding": {}},
        {"data": {"values": [{"day":122.6,"v":85.1}]},
         "mark": {"type": "point", "shape": "M-1,-0.8L1,0L-1,0.8Z", "filled": true, "color": "#e2231a", "size": 196, "opacity": 1}, "encoding": {}},
        {"data": {"values": [{"day":100,"day2":105.7,"v":57.3,"v2":46.8}]},
         "mark": {"type": "rect", "fill": "#a9a9a9", "stroke": "#c84040", "strokeWidth": 2.5}, "encoding": {"x2": {"field": "day2"}, "y2": {"field": "v2"}}},
        {"data": {"values": [{"day":107.48,"v":52.4}]},
         "mark": {"type": "point", "shape": "M-0.6,-1L0.6,0L-0.6,1Z", "filled": true, "fill": "#a9a9a9", "stroke": "#c84040", "strokeWidth": 2.5, "size": 3025, "opacity": 1}, "encoding": {}},
        {"data": {"values": [{"day":0,"day2":100,"v":23.5}]},
         "mark": {"type": "rule", "color": "#555", "strokeWidth": 2, "strokeDash": [2, 2]}, "encoding": {"x2": {"field": "day2"}}},
        {"data": {"name": "avg"}, "mark": {"type": "line", "color": "#1c2370", "strokeWidth": 4, "interpolate": "linear"}, "encoding": {}},
        {"data": {"values": [{"day":52.98,"day2":66.5,"v":53.1,"v2":30.3}]},
         "mark": {"type": "rule", "color": "#e2231a", "strokeWidth": 3}, "encoding": {"x2": {"field": "day2"}, "y2": {"field": "v2"}}},
        {"data": {"values": [{"day":66.5,"v":30.3}]},
         "mark": {"type": "point", "shape": "M0,-1L0.7,1L-0.7,1Z", "filled": true, "color": "#e2231a", "size": 225, "opacity": 1, "angle": 115.2}, "encoding": {}},
        {"data": {"values": [{"day":69.0,"v":46.6,"label":"Worsening"}]},
         "mark": {"type": "text", "fontSize": 30, "color": "#e2231a", "align": "center", "baseline": "middle"},
         "encoding": {"text": {"field": "label"}}},
        {"data": {"values": [{"day":-1.37,"v":64.8,"label":"Average"},{"day":-1.37,"v":48.7,"label":"RST"}]},
         "mark": {"type": "text", "fontSize": 34, "color": "#2b56a5", "align": "right", "baseline": "middle"},
         "encoding": {"text": {"field": "label"}}},
        {"data": {"values": [{"day":0,"day2":51.4,"v":-0.6,"v2":-16.6,"status":"Stable"},{"day":51.4,"day2":61.1,"v":-0.6,"v2":-16.6,"status":"Caution"},{"day":61.1,"day2":82.3,"v":-0.6,"v2":-16.6,"status":"Warning"},{"day":82.3,"day2":100,"v":-0.6,"v2":-16.6,"status":"Alert"}]},
         "mark": {"type": "rect"},
         "encoding": {
           "x2": {"field": "day2"},
           "y2": {"field": "v2"},
           "color": {"field": "status", "type": "nominal", "scale": {"domain": ["Stable", "Caution", "Warning", "Alert"], "range": ["#3a7cc6", "#4fb848", "#f2ea3a", "#e3221c"]}, "legend": null}
         }},
        {"data": {"values": [{"day":51.8,"v":-40.5,"label":"Date"}]},
         "mark": {"type": "text", "fontSize": 30, "color": "#111", "align": "center", "baseline": "middle"},
         "encoding": {"text": {"field": "label"}}}
      ]
    }
  ],
  "resolve": {"scale": {"x": "independent", "y": "independent"}}
}
